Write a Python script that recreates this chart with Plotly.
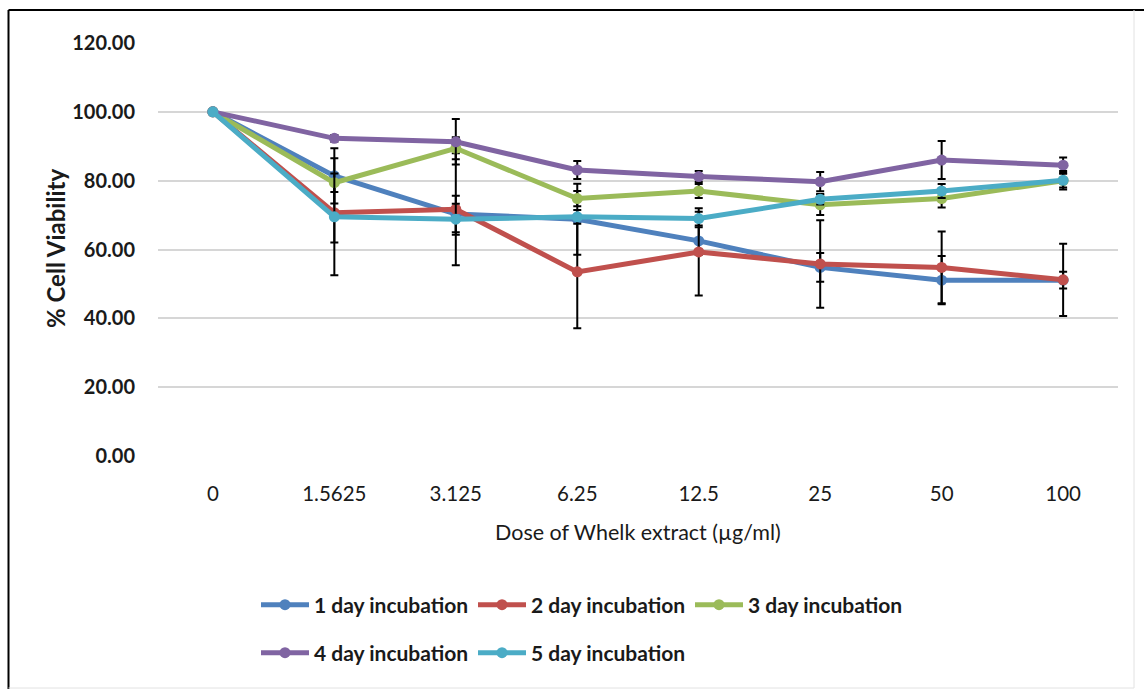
import plotly.graph_objects as go

doses = ["0", "1.5625", "3.125", "6.25", "12.5", "25", "50", "100"]
series_names = ["1 day incubation", "2 day incubation", "3 day incubation",
                "4 day incubation", "5 day incubation"]

day1 = [100, 81.4, 70.3, 68.8, 62.5, 54.8, 51.1, 51.1]
day2 = [100, 70.7, 71.7, 53.5, 59.3, 55.8, 54.8, 51.2]
day3 = [100, 79.4, 89.4, 74.8, 77.0, 73.0, 74.8, 80.0]
day4 = [100, 92.3, 91.3, 83.1, 81.2, 79.7, 86.0, 84.5]
day5 = [100, 69.5, 68.8, 69.5, 69.0, 74.6, 77.0, 80.1]

err1 = [0, 8.0, 5.3, 10.3, 4.0, 4.2, 7.0, 2.4]
err2 = [0, 8.7, 16.3, 16.4, 12.7, 12.7, 10.4, 10.5]
err3 = [0, 2.7, 3.2, 2.2, 2.0, 3.0, 2.6, 2.0]
err4 = [0, 1.0, 6.6, 2.6, 1.6, 2.8, 5.5, 2.2]
err5 = [0, 17.0, 4.5, 2.0, 2.0, 1.5, 2.0, 2.7]

colors = ["#4F81BD", "#C0504D", "#9BBB59", "#8064A2", "#4BACC6"]
values = [day1, day2, day3, day4, day5]
errors = [err1, err2, err3, err4, err5]
legend_ids = ["legend", "legend", "legend", "legend2", "legend2"]

FONT = "Lato, 'Open Sans', sans-serif"
TXT = "#1A1A1A"

fig = go.Figure()
for name, v, e, c, lg in zip(series_names, values, errors, colors, legend_ids):
    fig.add_trace(go.Scatter(
        x=doses, y=v, name=name, mode="lines+markers",
        line=dict(color=c, width=5),
        marker=dict(color=c, size=11, symbol="circle"),
        error_y=dict(type="data", array=e, visible=True,
                     color="black", thickness=2, width=4),
        legend=lg,
    ))

W, H = 1144, 689
ml, mr, mt, mb = 158, 26, 43, 233
pw, ph = W - ml - mr, H - mt - mb


def px_x(px):
    return (px - ml) / pw


def px_y(py):
    return (H - mb - py) / ph


legend_common = dict(
    orientation="h", xanchor="left", yanchor="middle",
    font=dict(family=FONT, size=21, color=TXT, weight="bold"),
    itemwidth=48, entrywidth=154, bgcolor="rgba(0,0,0,0)",
    tracegroupgap=0,
)

fig.update_layout(
    width=W, height=H,
    margin=dict(l=ml, r=mr, t=mt, b=mb),
    paper_bgcolor="white", plot_bgcolor="white",
    font=dict(family=FONT, color=TXT),
    showlegend=True,
    legend=dict(x=px_x(256), y=px_y(605), **legend_common),
    legend2=dict(x=px_x(256), y=px_y(653), **legend_common),
    xaxis=dict(
        type="category", showgrid=False, zeroline=False, showline=False,
        ticks="outside", ticklen=19, tickcolor="rgba(0,0,0,0)",
        tickfont=dict(family=FONT, size=20.5, color=TXT),
    ),
    yaxis=dict(
        range=[0, 120], dtick=20, tickformat=".2f",
        showgrid=True, gridcolor="#D6D6D6", gridwidth=1.5,
        zeroline=False, showline=False,
        ticks="outside", ticklen=18, tickcolor="rgba(0,0,0,0)",
        tickfont=dict(family=FONT, size=20, color=TXT, weight="bold"),
    ),
    annotations=[
        dict(text="Dose of Whelk extract (µg/ml)", xref="paper", yref="paper",
             x=0.5, y=px_y(532), xanchor="center", yanchor="middle",
             showarrow=False, font=dict(family=FONT, size=21.5, color=TXT)),
        dict(text="% Cell Viability", xref="paper", yref="paper",
             x=px_x(55), y=px_y(249), xanchor="center", yanchor="middle",
             textangle=-90, showarrow=False,
             font=dict(family=FONT, size=24, color=TXT, weight="bold")),
    ],
    shapes=[
        dict(type="line", xref="paper", yref="paper", x0=px_x(8.5), x1=px_x(1144),
             y0=px_y(10), y1=px_y(10), line=dict(color="black", width=2)),
        dict(type="line", xref="paper", yref="paper", x0=px_x(8.5), x1=px_x(8.5),
             y0=px_y(10), y1=px_y(689), line=dict(color="black", width=2)),
        dict(type="line", xref="paper", yref="paper", x0=px_x(1134), x1=px_x(1134),
             y0=px_y(10), y1=px_y(688), line=dict(color="#E2E2E2", width=1)),
        dict(type="line", xref="paper", yref="paper", x0=px_x(8.5), x1=px_x(1134),
             y0=px_y(688), y1=px_y(688), line=dict(color="#E2E2E2", width=1)),
    ],
)

fig.write_html("out.html")
